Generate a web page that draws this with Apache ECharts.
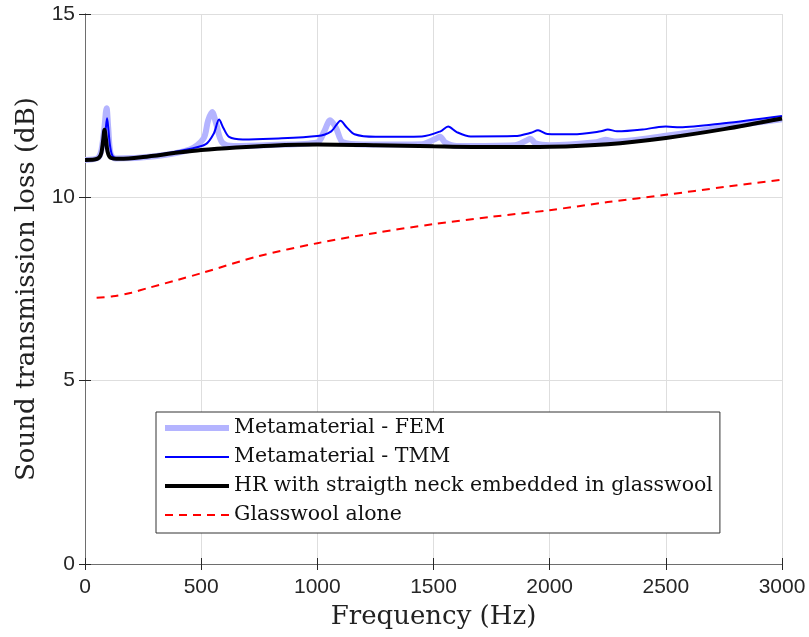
<!DOCTYPE html>
<html>
<head>
<meta charset="utf-8">
<script src="https://cdn.jsdelivr.net/npm/echarts@6/dist/echarts.min.js"></script>
<style>
  html, body { margin: 0; padding: 0; background: #fff; }
  #chart { width: 809px; height: 637px; }
</style>
</head>
<body>
<div id="chart"></div>
<script>
// frequency (Hz), transmission loss (dB)
const femData = [
  [0, 11.02], [60, 11.1], [80, 11.7], [93, 12.43], [100, 11.9], [110, 11.2], [130, 11.06],
  [300, 11.12], [450, 11.3], [510, 11.6], [530, 12.1], [547, 12.33], [565, 12.0], [590, 11.5],
  [640, 11.4], [800, 11.43], [1000, 11.5], [1030, 11.8], [1055, 12.1], [1080, 11.9], [1110, 11.5],
  [1200, 11.44], [1450, 11.45], [1510, 11.6], [1528, 11.65], [1550, 11.5], [1600, 11.4],
  [1850, 11.42], [1900, 11.55], [1916, 11.6], [1940, 11.47], [2000, 11.42], [2200, 11.5],
  [2240, 11.57], [2280, 11.52], [2500, 11.68], [2750, 11.92], [3000, 12.13]
]
const tmmData = [
  [0, 11.02], [50, 11.05], [75, 11.3], [88, 11.8], [95, 12.16], [100, 11.9], [108, 11.4],
  [120, 11.12], [150, 11.06], [300, 11.15], [450, 11.32], [520, 11.45], [555, 11.75],
  [577, 12.12], [595, 11.9], [620, 11.65], [680, 11.58], [800, 11.6], [1000, 11.67],
  [1060, 11.8], [1100, 12.09], [1125, 11.92], [1160, 11.72], [1250, 11.65], [1450, 11.66],
  [1530, 11.8], [1563, 11.93], [1600, 11.78], [1660, 11.66], [1850, 11.67], [1920, 11.76],
  [1950, 11.83], [1990, 11.73], [2100, 11.72], [2220, 11.8], [2250, 11.85], [2290, 11.8],
  [2400, 11.85], [2470, 11.92], [2500, 11.93], [2560, 11.91], [2750, 12.02], [3000, 12.22]
]
const hrData = [
  [0, 11.02], [40, 11.03], [60, 11.08], [70, 11.2], [78, 11.55], [84, 11.84], [90, 11.6],
  [97, 11.25], [110, 11.08], [150, 11.05], [250, 11.1], [400, 11.22], [500, 11.29],
  [650, 11.36], [800, 11.41], [1000, 11.44], [1250, 11.42], [1500, 11.39], [1750, 11.37],
  [2000, 11.38], [2250, 11.45], [2500, 11.62], [2750, 11.86], [3000, 12.15]
]
const glasswoolData = [
  [50, 7.26], [120, 7.3], [200, 7.4], [267, 7.52], [400, 7.75], [500, 7.93], [750, 8.4],
  [1000, 8.75], [1250, 9.03], [1500, 9.27], [1750, 9.47], [2000, 9.65], [2250, 9.87],
  [2500, 10.07], [2750, 10.28], [3000, 10.48]
]
const seriesNames = [
  'Metamaterial - FEM',
  'Metamaterial - TMM',
  'HR with straigth neck embedded in glasswool',
  'Glasswool alone'
]

const serif = '"DejaVu Serif", "Liberation Serif", serif'
const sans = '"Liberation Sans", Arial, sans-serif'
const frame = '#6e6e6e'

// plain frame axis used on top / right to mirror the ticks (box on)
const mirror = (extra) => Object.assign({
  type: 'value',
  axisLine: { show: true, lineStyle: { color: frame, width: 1 } },
  axisTick: { show: true, inside: true, length: 6, lineStyle: { color: '#262626' } },
  axisLabel: { show: false },
  splitLine: { show: false }
}, extra)

const chart = echarts.init(document.getElementById('chart'))
chart.setOption({
  animation: false,
  grid: { left: 85, right: 27, top: 14, bottom: 73 },
  legend: {
    orient: 'vertical',
    left: 156, top: 412,
    padding: [5, 7, 7, 6],
    itemWidth: 64, itemHeight: 14, itemGap: 7,
    backgroundColor: '#fff',
    borderColor: '#333', borderWidth: 1,
    itemStyle: { opacity: 0 },
    textStyle: { fontFamily: serif, fontSize: 20.5, color: '#111', lineHeight: 22 },
    data: [
      { name: seriesNames[0], lineStyle: { width: 6 } },
      { name: seriesNames[1], lineStyle: { width: 2 } },
      { name: seriesNames[2], lineStyle: { width: 4 } },
      { name: seriesNames[3], lineStyle: { width: 2 } }
    ]
  },
  xAxis: [{
    type: 'value', min: 0, max: 3000, interval: 500,
    name: 'Frequency (Hz)', nameLocation: 'middle', nameGap: 40,
    nameTextStyle: { fontFamily: serif, fontSize: 26, color: '#222' },
    axisLine: { show: true, lineStyle: { color: frame, width: 1 } },
    axisTick: { show: true, inside: true, length: 6, lineStyle: { color: '#262626' } },
    axisLabel: { fontFamily: sans, fontSize: 21, color: '#262626', margin: 13, formatter: v => String(v) },
    splitLine: { show: true, lineStyle: { color: '#dedede', width: 1 } }
  }, mirror({ position: 'top', min: 0, max: 3000, interval: 500 })],
  yAxis: [{
    type: 'value', min: 0, max: 15, interval: 5,
    name: 'Sound transmission loss (dB)', nameLocation: 'middle', nameGap: 44,
    nameTextStyle: { fontFamily: serif, fontSize: 26, color: '#222' },
    axisLine: { show: true, lineStyle: { color: frame, width: 1 } },
    axisTick: { show: true, inside: true, length: 6, lineStyle: { color: '#262626' } },
    axisLabel: { fontFamily: sans, fontSize: 21, color: '#262626', margin: 10, formatter: v => String(v) },
    splitLine: { show: true, lineStyle: { color: '#dedede', width: 1 } }
  }, mirror({ position: 'right', min: 0, max: 15, interval: 5 })],
  series: [
    {
      name: seriesNames[0], type: 'line', data: femData, symbol: 'none', smooth: 0.3,
      lineStyle: { color: '#b4b4ff', width: 6 }, itemStyle: { color: '#b4b4ff' }
    },
    {
      name: seriesNames[1], type: 'line', data: tmmData, symbol: 'none', smooth: 0.3,
      lineStyle: { color: '#0000ff', width: 2 }, itemStyle: { color: '#0000ff' }
    },
    {
      name: seriesNames[2], type: 'line', data: hrData, symbol: 'none', smooth: 0.3,
      lineStyle: { color: '#000', width: 4 }, itemStyle: { color: '#000' }
    },
    {
      name: seriesNames[3], type: 'line', data: glasswoolData, symbol: 'none', smooth: 0.3,
      lineStyle: { color: '#ff0000', width: 2, type: [8, 6] }, itemStyle: { color: '#ff0000' }
    }
  ]
})
</script>
</body>
</html>
